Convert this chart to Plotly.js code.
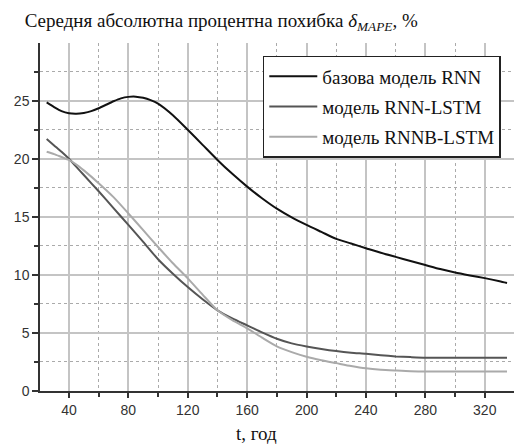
<!DOCTYPE html>
<html>
<head>
<meta charset="utf-8">
<script src="https://cdn.plot.ly/plotly-3.0.1.min.js"></script>
<style>html,body{margin:0;padding:0;background:#fff;}#chart{width:514px;height:447px;}</style>
</head>
<body>
<div id="chart"></div>
<script>
// Base RNN model
const xBase = [25, 30, 35, 40, 45, 50, 55, 60, 65, 70, 75, 80, 85, 90, 95, 100, 110, 120, 130, 140, 150, 160, 170, 180, 190, 200, 210, 220, 230, 240, 250, 260, 270, 280, 290, 300, 310, 320, 330, 335];
const yBase = [24.85, 24.45, 24.1, 23.92, 23.88, 23.95, 24.1, 24.35, 24.65, 24.95, 25.2, 25.33, 25.35, 25.25, 25.05, 24.75, 23.75, 22.5, 21.2, 19.9, 18.7, 17.6, 16.6, 15.7, 14.95, 14.3, 13.7, 13.1, 12.7, 12.3, 11.9, 11.55, 11.2, 10.85, 10.5, 10.2, 9.95, 9.72, 9.45, 9.3];

// RNN-LSTM model
const xLstm = [25, 30, 35, 40, 45, 50, 60, 70, 80, 90, 100, 110, 120, 130, 140, 150, 160, 170, 180, 190, 200, 210, 220, 230, 240, 250, 260, 270, 280, 300, 320, 335];
const yLstm = [21.7, 21.15, 20.6, 20.0, 19.3, 18.6, 17.2, 15.75, 14.3, 12.85, 11.35, 10.1, 8.95, 7.9, 6.95, 6.25, 5.65, 5.05, 4.5, 4.1, 3.84, 3.62, 3.44, 3.3, 3.2, 3.08, 2.98, 2.92, 2.87, 2.87, 2.87, 2.87];

// RNNB-LSTM model
const xLstmB = [25, 30, 35, 40, 45, 50, 60, 70, 80, 90, 100, 110, 120, 130, 140, 150, 160, 170, 180, 190, 200, 210, 220, 230, 240, 250, 260, 270, 280, 300, 320, 335];
const yLstmB = [20.6, 20.4, 20.15, 19.9, 19.5, 19.0, 17.9, 16.7, 15.3, 13.85, 12.4, 11.0, 9.7, 8.3, 6.95, 6.1, 5.4, 4.6, 3.85, 3.35, 2.95, 2.65, 2.4, 2.15, 1.95, 1.83, 1.76, 1.7, 1.68, 1.68, 1.68, 1.68];

const seriesNames = ["базова модель RNN", "модель RNN-LSTM", "модель RNNB-LSTM"];

const serif = "Liberation Serif, Times New Roman, serif";
const sans = "Liberation Sans, Arial, sans-serif";

const colors = ["#111111", "#555555", "#aaaaaa"];
const xs = [xBase, xLstm, xLstmB];
const ys = [yBase, yLstm, yLstmB];

const traces = xs.map((x, i) => ({
  x: x, y: ys[i], type: "scatter", mode: "lines", name: seriesNames[i],
  legendgroup: "g" + i,
  line: {color: colors[i], width: 2, shape: "spline", smoothing: 0.6}
}));

const layout = {
  width: 514, height: 447,
  margin: {l: 40, r: 0, t: 43, b: 56},
  paper_bgcolor: "#fff", plot_bgcolor: "#fff",
  title: {
    text: "Середня абсолютна процентна похибка <i>δ</i><sub><i>MAPE</i></sub>, %",
    font: {family: serif, size: 19, color: "#111"},
    xref: "container", yref: "container", x: 0.048, xanchor: "left", y: 0.955, yanchor: "middle"
  },
  xaxis: {
    range: [20.5, 339.7],
    tickmode: "linear", tick0: 0, dtick: 40,
    ticks: "outside", ticklen: 5, tickwidth: 1.5, tickcolor: "#333",
    showline: true, linecolor: "#333", linewidth: 1.5,
    showgrid: true, gridcolor: "#c4c4c4", gridwidth: 1.5,
    zeroline: false,
    tickfont: {family: sans, size: 14, color: "#333"},
    minor: {tickmode: "linear", tick0: 0, dtick: 20, ticks: "outside", ticklen: 4, tickcolor: "#333",
            showgrid: true, gridcolor: "#aaaaaa", gridwidth: 1, griddash: "dot"}
  },
  yaxis: {
    range: [0, 29.97],
    tickmode: "linear", tick0: 0, dtick: 5,
    ticks: "outside", ticklen: 6, tickwidth: 1.5, tickcolor: "#333",
    showline: true, linecolor: "#333", linewidth: 1.5,
    showgrid: true, gridcolor: "#c4c4c4", gridwidth: 1.5,
    zeroline: false,
    tickfont: {family: sans, size: 14, color: "#333"},
    minor: {tickmode: "linear", tick0: 0, dtick: 2.5, ticks: "outside", ticklen: 4, tickcolor: "#333",
            showgrid: true, gridcolor: "#aaaaaa", gridwidth: 1, griddash: "dot"}
  },
  showlegend: true,
  legend: {
    x: 0.47, y: 0.963, xanchor: "left", yanchor: "top",
    bgcolor: "#fff", bordercolor: "#222", borderwidth: 1.5,
    font: {family: serif, size: 19, color: "#111"},
    traceorder: "grouped", tracegroupgap: 2.5,
    itemwidth: 48
  },
  annotations: [{
    text: "t, год", xref: "paper", yref: "paper", x: 0.456, y: -0.122,
    xanchor: "center", yanchor: "middle", showarrow: false,
    font: {family: serif, size: 19, color: "#111"}
  }]
};

Plotly.newPlot("chart", traces, layout, {displayModeBar: false});
</script>
</body>
</html>
